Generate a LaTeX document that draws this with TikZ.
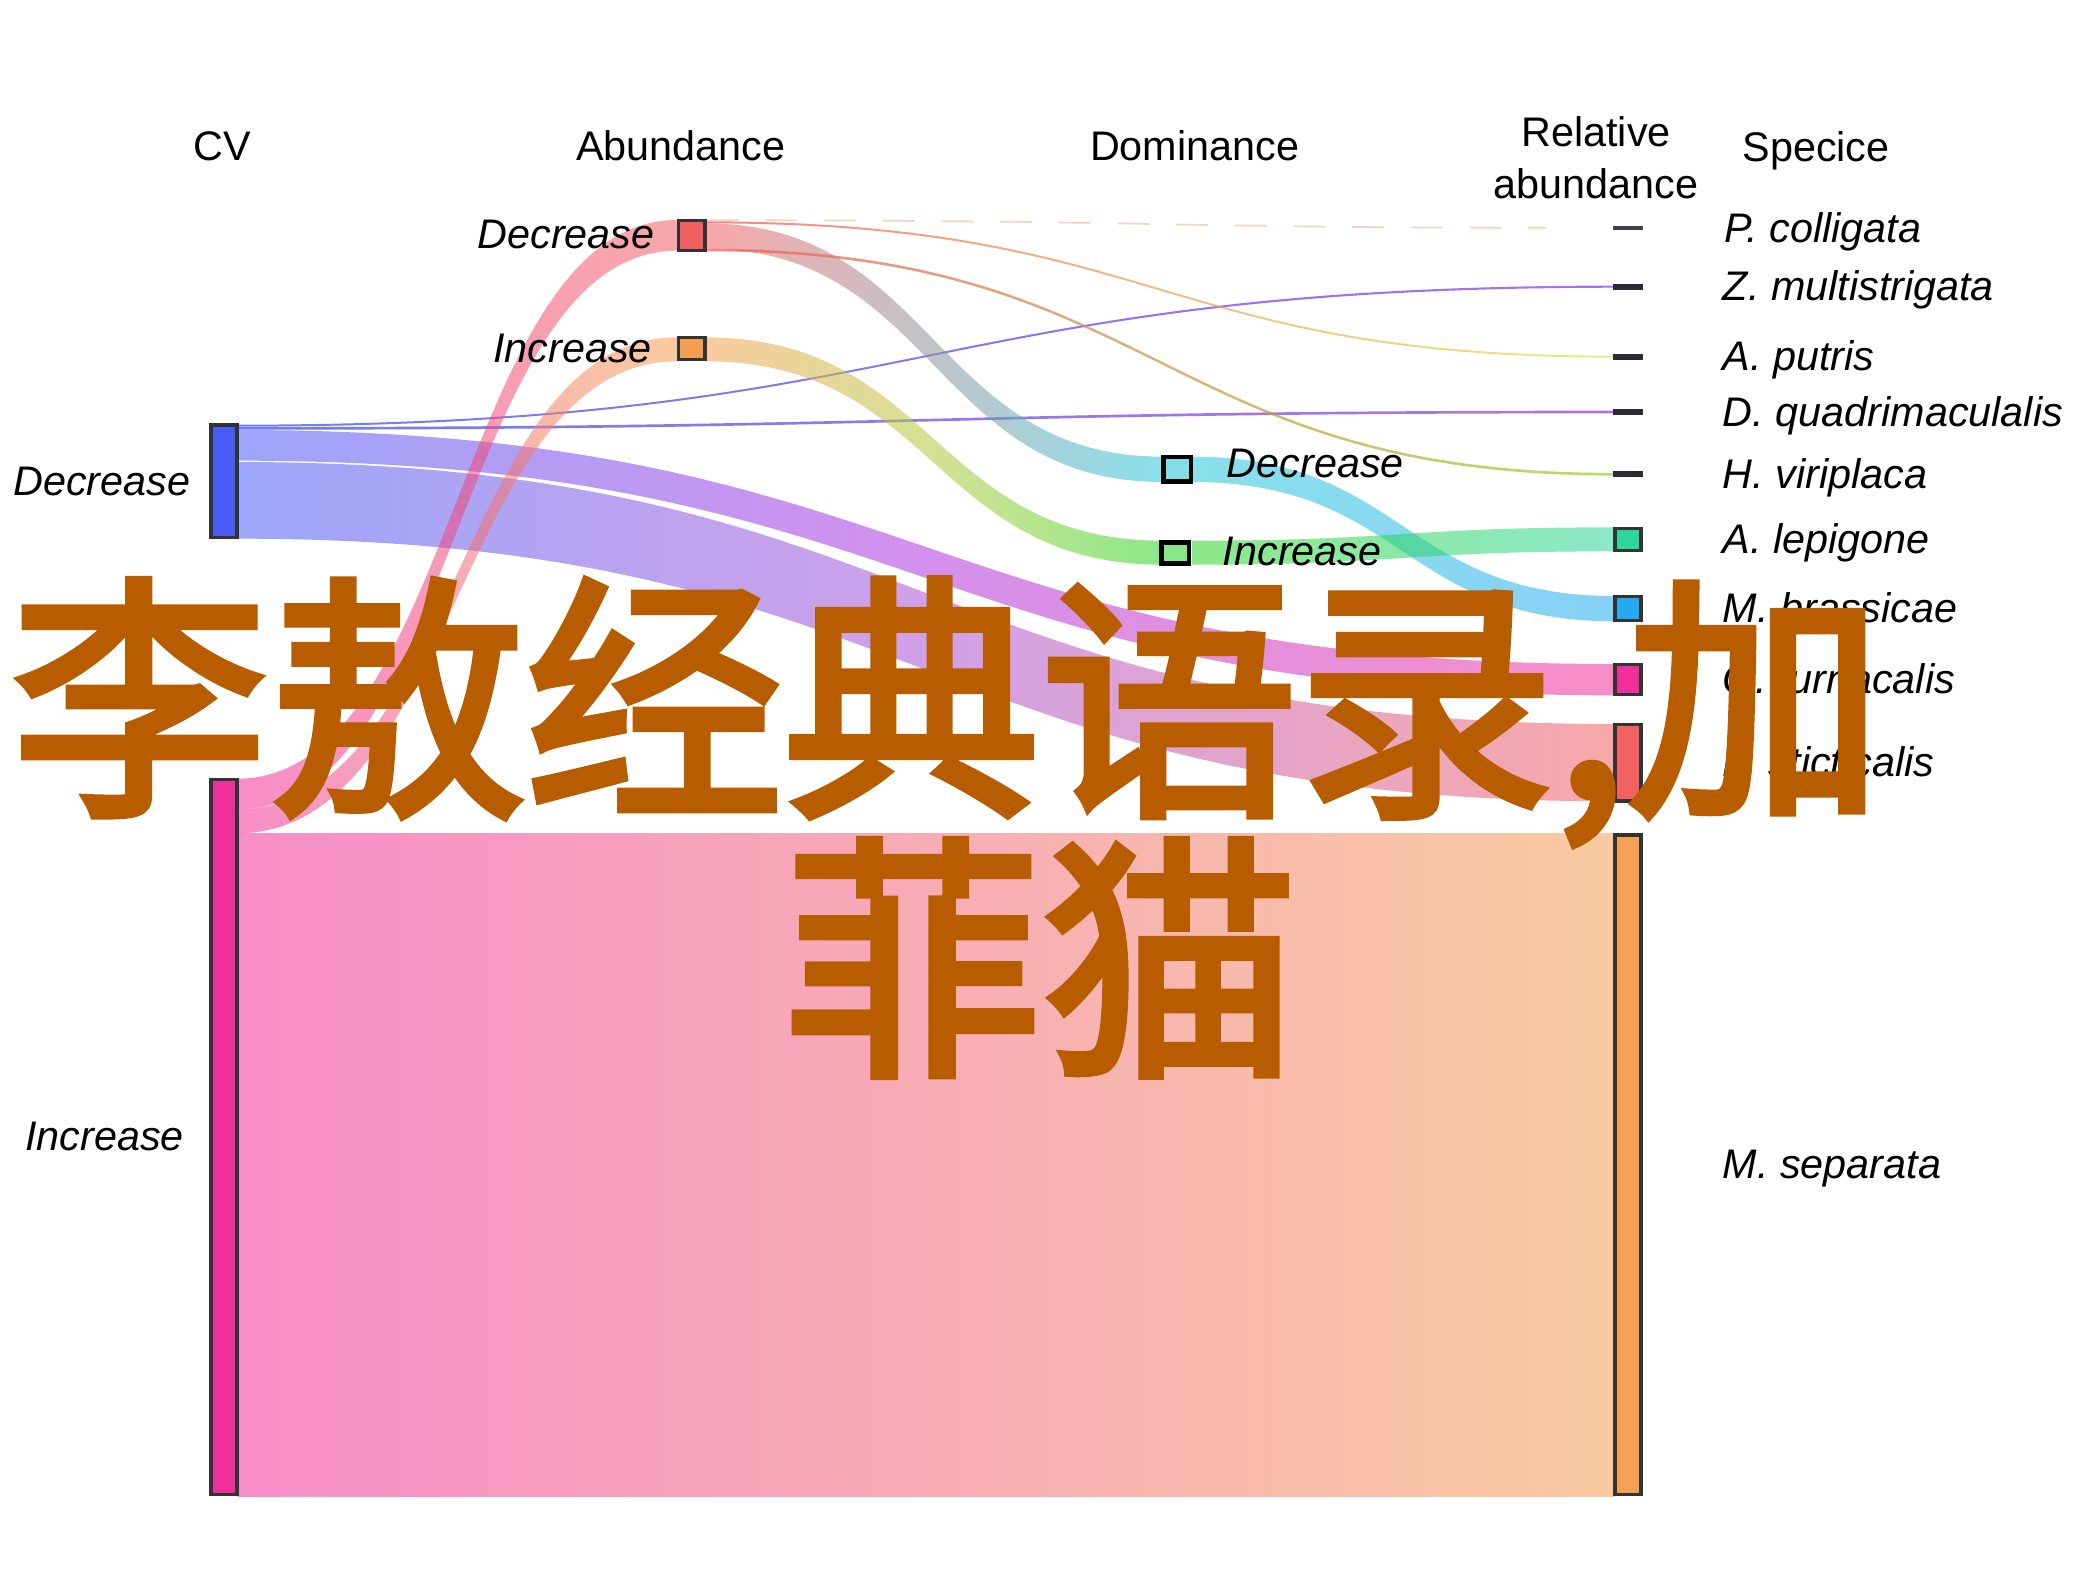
\documentclass[tikz,border=0pt]{standalone}
\usepackage{fontspec}
\setmainfont{Liberation Sans}
\newfontfamily\cjk[FakeBold=3]{Noto Sans CJK SC}
\definecolor{cvdec}{HTML}{4A5CF5}
\definecolor{cvinc}{HTML}{F0309A}
\definecolor{abdec}{HTML}{F25F5F}
\definecolor{abinc}{HTML}{F5A050}
\definecolor{domdec}{HTML}{27C7D9}
\definecolor{dominc}{HTML}{2ED527}
\definecolor{domdecbox}{HTML}{82DDE6}
\definecolor{dominbox}{HTML}{88E888}
\definecolor{alep}{HTML}{2ED69A}
\definecolor{mbrass}{HTML}{25AAF0}
\definecolor{ofurn}{HTML}{F0309A}
\definecolor{lstict}{HTML}{F26262}
\definecolor{msep}{HTML}{F4A055}
\definecolor{zmult}{HTML}{9050E8}
\definecolor{dquad}{HTML}{A050E0}
\definecolor{aputris}{HTML}{EDE049}
\definecolor{hvir}{HTML}{9BD535}
\definecolor{pcoll}{HTML}{F4D2C4}
\definecolor{midls}{HTML}{A952D5}
\definecolor{midof}{HTML}{B035DD}
\definecolor{midai}{HTML}{B2C93A}
\definecolor{boxline}{HTML}{333333}
\definecolor{thinmark}{HTML}{2B2B36}
\definecolor{wmcol}{HTML}{B85C00}
% flow band: x0, s0, s1, x1, t0, t1, colour A, colour B, opacity
\newcommand{\flowband}[9]{%
  \shade[left color=#7, right color=#8, fill opacity=#9]
    (#1,#2) .. controls ({(#1+#4)/2},#2) and ({(#1+#4)/2},#5) .. (#4,#5)
    -- (#4,#6) .. controls ({(#1+#4)/2},#6) and ({(#1+#4)/2},#3) .. (#1,#3) -- cycle;}
% same with a middle colour: x0, s0, s1, x1, t0, t1, A, M, B
\newcommand{\flowbandm}[9]{%
  \shade[left color=#7, right color=#9, middle color=#8, fill opacity=0.55]
    (#1,#2) .. controls ({(#1+#4)/2},#2) and ({(#1+#4)/2},#5) .. (#4,#5)
    -- (#4,#6) .. controls ({(#1+#4)/2},#6) and ({(#1+#4)/2},#3) .. (#1,#3) -- cycle;}
\begin{document}
\begin{tikzpicture}[x=1pt,y=-1pt,
  hdr/.style={font=\fontsize{31}{35}\selectfont, inner sep=0pt},
  lab/.style={font=\fontsize{31}{35}\selectfont\itshape, inner sep=0pt},
  box/.style={draw=boxline, line width=2.5pt, inner sep=0pt, minimum width=19.5pt},
  dombox/.style={draw=black, line width=3.5pt, inner sep=0pt, minimum width=20.5pt},
  thin/.style={fill=thinmark, inner sep=0pt, minimum width=22pt, minimum height=4.5pt},
  wm/.style={font=\cjk\fontsize{193}{195}\selectfont, text=wmcol, inner sep=0pt}]
\useasboundingbox (0,0) rectangle (1559.25,1193.25);

% ---- flows ----
\shade[left color=cvinc, right color=msep, fill opacity=0.55] (178,625) rectangle (1211,1122);
\flowbandm{178}{346.5}{404}{1211}{543}{601}{cvdec}{midls}{lstict}
\flowbandm{178}{322.5}{345.5}{1211}{498}{521.5}{cvdec}{midof}{ofurn}
\flowband{178}{318.5}{320}{1211}{214.2}{215.8}{cvdec}{zmult}{0.8}
\flowband{178}{320.3}{322.3}{1211}{308}{310}{cvdec}{dquad}{0.8}
\flowband{178}{584}{607}{508}{165}{188}{cvinc}{abdec}{0.55}
\flowband{178}{607}{625}{508}{253}{271}{cvinc}{abinc}{0.55}
\draw[pcoll, line width=1.3pt, dash pattern=on 24pt off 20pt]
  (530,165.2) .. controls (870,165.2) and (870,170.8) .. (1160,170.8);
\flowband{529}{166}{167.5}{1211}{266.8}{268.2}{abdec}{aputris}{0.75}
\flowband{529}{167.5}{186.5}{872}{342.5}{361.5}{abdec}{domdec}{0.55}
\flowband{529}{186.5}{188.5}{1211}{354.7}{356.7}{abdec}{hvir}{0.75}
\flowbandm{529}{253}{271}{872}{405.5}{423.5}{abinc}{midai}{dominc}
\flowband{894}{342.5}{361.5}{1211}{447}{466}{domdec}{mbrass}{0.55}
\flowband{894}{405.5}{423.5}{1211}{395.5}{413.5}{dominc}{alep}{0.55}

% ---- column boxes ----
\node[box, fill=cvdec, minimum height=84.5pt] (cvd) at (168,361) {};
\node[box, fill=cvinc, minimum height=536pt] (cvi) at (168,852.75) {};
\node[box, fill=abdec, minimum width=20pt, minimum height=22.5pt] (abd) at (518.75,176.5) {};
\node[box, fill=abinc, minimum width=20pt, minimum height=16.5pt] (abi) at (518.75,261.5) {};
\node[dombox, fill=domdecbox, minimum height=18.5pt] (dmd) at (883,352) {};
\node[dombox, fill=dominbox, minimum height=16pt] (dmi) at (881.5,414.75) {};
\node[thin, minimum height=3pt, fill=thinmark!90] (spc) at (1221,170.8) {};
\node[thin] (szm) at (1221,215) {};
\node[thin] (sap) at (1221,267.5) {};
\node[thin] (sdq) at (1221,309) {};
\node[thin] (shv) at (1221,355.7) {};
\node[box, fill=alep, minimum height=16.5pt] (sal) at (1221,404.5) {};
\node[box, fill=mbrass, minimum height=18pt] (smb) at (1221,456.25) {};
\node[box, fill=ofurn, minimum height=22.5pt] (sof) at (1221,509.5) {};
\node[box, fill=lstict, minimum height=57.5pt] (sls) at (1221,572) {};
\node[box, fill=msep, minimum height=494.5pt] (sms) at (1221,873.5) {};

% ---- headers ----
\node[hdr, anchor=base] (hcv) at (167,120.5) {CV};
\node[hdr, anchor=base] (hab) at (510.5,120.5) {Abundance};
\node[hdr, anchor=base] (hdo) at (896,120.5) {Dominance};
\node[hdr, anchor=base] (hre1) at (1197,110) {Relative};
\node[hdr, anchor=base] (hre2) at (1197,148.5) {abundance};
\node[hdr, anchor=base] (hsp) at (1362,121) {Specice};

% ---- stratum labels ----
\node[lab, anchor=base east] (lcvd) at (143,371.5) {Decrease};
\node[lab, anchor=base east] (lcvi) at (138,863) {Increase};
\node[lab, anchor=base east] (labd) at (491,186) {Decrease};
\node[lab, anchor=base east] (labi) at (489,272) {Increase};
\node[lab, anchor=base west] (ldmd) at (920,358) {Decrease};
\node[lab, anchor=base west] (ldmi) at (917,424) {Increase};

% ---- species labels ----
\node[lab, anchor=base west] (tpc) at (1293,181.5) {P. colligata};
\node[lab, anchor=base west] (tzm) at (1292,225.7) {Z. multistrigata};
\node[lab, anchor=base west] (tap) at (1292,278.2) {A. putris};
\node[lab, anchor=base west] (tdq) at (1292,319.7) {D. quadrimaculalis};
\node[lab, anchor=base west] (thv) at (1292,366.4) {H. viriplaca};
\node[lab, anchor=base west] (tal) at (1292,415.2) {A. lepigone};
\node[lab, anchor=base west] (tmb) at (1292,467) {M. brassicae};
\node[lab, anchor=base west] (tof) at (1292,520.2) {O. furnacalis};
\node[lab, anchor=base west] (tls) at (1292,582.7) {L. sticticalis};
\node[lab, anchor=base west] (tms) at (1292,884.2) {M. separata};

% ---- watermark ----
\node[wm, anchor=base west] (wm1) at (8,597) {李敖经典语录,加};
\node[wm, anchor=base west] (wm2) at (588,792) {菲猫};
\end{tikzpicture}
\end{document}
